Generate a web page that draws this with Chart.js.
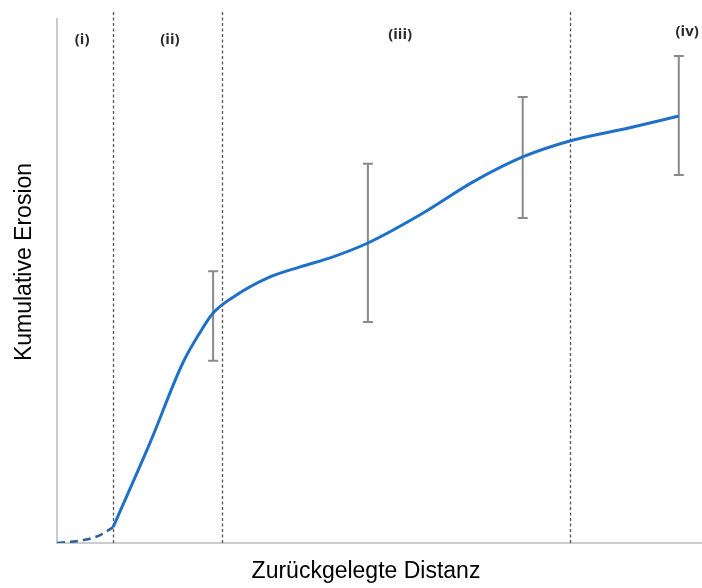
<!DOCTYPE html>
<html>
<head>
<meta charset="utf-8">
<script src="https://cdn.jsdelivr.net/npm/chart.js@4.4.0/dist/chart.umd.min.js"></script>
<style>
  html, body { margin: 0; padding: 0; background: #fff; }
  #wrap { position: relative; width: 702px; height: 588px; }
</style>
</head>
<body>
<div id="wrap"><canvas id="chart"></canvas></div>
<script>
// Phase (i): dashed start of the curve
const startX = [0, 4.3, 6.7, 8.7];
const startY = [0, 0.6, 1.5, 3.0];

// Phases (ii)-(iv): main curve
const curveX = [8.7, 14.4, 19.5, 22.2, 24.2, 27.3, 32.6, 37.7, 42.8, 48.2, 56.7, 64.5, 72.2, 79.5, 88.8, 96.4];
const curveY = [3.0, 18.8, 33.9, 39.7, 43.3, 46.3, 49.9, 52.0, 53.9, 56.5, 62.1, 68.0, 72.7, 75.7, 78.2, 80.4];

// Error bars
const errX = [24.2, 48.2, 72.2, 96.4];
const errLow = [34.3, 41.6, 61.2, 69.3];
const errHigh = [51.2, 71.4, 84.0, 91.7];

// Phase boundaries and labels
const phaseBounds = [8.7, 25.6, 79.5];
const phaseLabels = ['(i)', '(ii)', '(iii)', '(iv)'];
const phaseLabelX = [3.9, 17.5, 53.2, 97.7];
const phaseLabelY = [94.7, 94.7, 95.7, 96.2];

const xTitle = 'Zurückgelegte Distanz';
const yTitle = 'Kumulative Erosion';

const toPoints = (xs, ys) => xs.map((x, i) => ({ x: x, y: ys[i] }));

// Draws axis line, phase lines, error bars, phase labels and axis titles
const extrasPlugin = {
    id: 'extras',
    beforeDatasetsDraw(chart) {
        const ctx = chart.ctx;
        const xs = chart.scales.x;
        const ys = chart.scales.y;
        const area = chart.chartArea;

        // y axis line (starts a bit below the top of the plot)
        ctx.save();
        ctx.strokeStyle = '#cccccc';
        ctx.lineWidth = 2;
        ctx.beginPath();
        ctx.moveTo(area.left, area.top + 6);
        ctx.lineTo(area.left, area.bottom);
        ctx.stroke();
        ctx.restore();

        // vertical dashed phase boundaries
        ctx.save();
        ctx.strokeStyle = '#555555';
        ctx.lineWidth = 1.3;
        ctx.setLineDash([3, 2.5]);
        phaseBounds.forEach(b => {
            const px = Math.round(xs.getPixelForValue(b)) + 0.5;
            ctx.beginPath();
            ctx.moveTo(px, area.top);
            ctx.lineTo(px, area.bottom);
            ctx.stroke();
        });
        ctx.restore();

        // error bars
        ctx.save();
        ctx.strokeStyle = '#8a8a8a';
        ctx.lineWidth = 2;
        errX.forEach((x, i) => {
            const px = xs.getPixelForValue(x);
            const top = ys.getPixelForValue(errHigh[i]);
            const bot = ys.getPixelForValue(errLow[i]);
            ctx.beginPath();
            ctx.moveTo(px, top);
            ctx.lineTo(px, bot);
            ctx.moveTo(px - 5, top);
            ctx.lineTo(px + 5, top);
            ctx.moveTo(px - 5, bot);
            ctx.lineTo(px + 5, bot);
            ctx.stroke();
        });
        ctx.restore();
    },
    afterDraw(chart) {
        const ctx = chart.ctx;
        const xs = chart.scales.x;
        const ys = chart.scales.y;

        ctx.save();
        ctx.fillStyle = '#2a2a2a';
        ctx.font = 'bold 15px "Open Sans", sans-serif';
        ctx.textAlign = 'center';
        ctx.textBaseline = 'middle';
        phaseLabels.forEach((t, i) => {
            ctx.fillText(t, xs.getPixelForValue(phaseLabelX[i]), ys.getPixelForValue(phaseLabelY[i]));
        });

        ctx.fillStyle = '#000000';
        ctx.font = '23px "Liberation Sans", Arial, sans-serif';
        ctx.fillText(xTitle, 366, 572);

        ctx.translate(25, 262);
        ctx.rotate(-Math.PI / 2);
        ctx.fillText(yTitle, 0, 0);
        ctx.restore();
    }
};

new Chart(document.getElementById('chart'), {
    type: 'line',
    data: {
        datasets: [
            {
                data: toPoints(startX, startY),
                borderColor: '#2b5f9f',
                borderWidth: 2.5,
                borderDash: [8, 5],
                pointRadius: 0,
                cubicInterpolationMode: 'monotone',
                fill: false
            },
            {
                data: toPoints(curveX, curveY),
                borderColor: '#1f70c8',
                borderWidth: 3,
                pointRadius: 0,
                cubicInterpolationMode: 'monotone',
                fill: false
            }
        ]
    },
    options: {
        responsive: true,
        maintainAspectRatio: false,
        animation: false,
        layout: {
            padding: { left: 57, right: 0, top: 12, bottom: 45 }
        },
        plugins: {
            legend: { display: false },
            tooltip: { enabled: false }
        },
        scales: {
            x: {
                type: 'linear',
                min: 0,
                max: 100,
                grid: { display: false, drawTicks: false },
                border: { display: true, color: '#cccccc', width: 2 },
                ticks: { display: false }
            },
            y: {
                type: 'linear',
                min: 0,
                max: 100,
                grid: { display: false, drawTicks: false },
                border: { display: false },
                ticks: { display: false }
            }
        }
    },
    plugins: [extrasPlugin]
});
</script>
</body>
</html>
